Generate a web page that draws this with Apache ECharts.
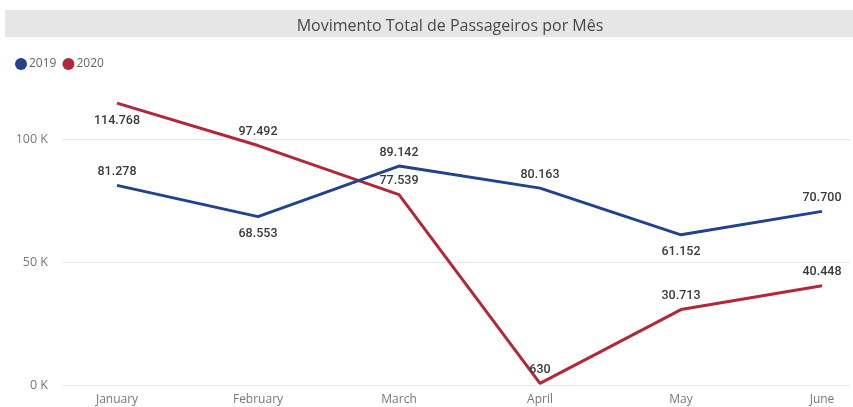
<!DOCTYPE html>
<html>
<head>
<meta charset="utf-8">
<script src="https://cdn.jsdelivr.net/npm/echarts@6/dist/echarts.min.js"></script>
<style>html,body{margin:0;padding:0;background:#fff}#c{width:853px;height:407px}</style>
</head>
<body>
<div id="c"></div>
<script>
const titleText = 'Movimento Total de Passageiros por Mês';
const months = ['January', 'February', 'March', 'April', 'May', 'June'];
const seriesNames = ['2019', '2020'];
const values2019 = [81278, 68553, 89142, 80163, 61152, 70700];
const values2020 = [114768, 97492, 77539, 630, 30713, 40448];
const yTicks = [0, 50000, 100000];

const colors = ['#22428c', '#b0283a'];
const pos2019 = ['top', 'bottom', 'top', 'top', 'bottom', 'top'];
const pos2020 = ['bottom', 'top', 'top', 'top', 'top', 'top'];

function fmt(v) {
  return String(v).replace(/\B(?=(\d{3})+(?!\d))/g, '.');
}
function items(vals, pos) {
  return vals.map((v, i) => ({ value: v, label: { position: pos[i], distance: pos[i] === 'bottom' ? 11 : 7 } }));
}
const labelStyle = { show: true, color: '#3a3a3a', fontFamily: 'Roboto', fontSize: 12.5, fontWeight: 500, distance: 7, formatter: p => fmt(p.value) };

const chart = echarts.init(document.getElementById('c'), null, { renderer: 'canvas' });
chart.setOption({
  animation: false,
  graphic: [{ type: 'rect', shape: { x: 5, y: 10, width: 848, height: 27 }, style: { fill: '#e6e6e6' }, z: 0 }],
  title: { text: titleText, left: 445, textAlign: 'center', top: 13, textStyle: { fontFamily: 'Open Sans', fontWeight: 'normal', fontSize: 16, color: '#484848' } },
  legend: { left: 10, top: 53, itemWidth: 12, itemHeight: 12, itemGap: 6, icon: 'circle', textStyle: { color: '#666', fontFamily: 'Open Sans', fontSize: 12, padding: [0, 0, 0, -3] }, data: seriesNames },
  grid: [
    { left: 62, right: 3, top: 78, bottom: 22 },
    { left: 117, right: 31, top: 78, bottom: 22 }
  ],
  xAxis: [
    { gridIndex: 0, type: 'value', min: 0, max: 1, show: false },
    { gridIndex: 1, type: 'category', data: months, boundaryGap: false, axisLine: { show: false }, axisTick: { show: false }, axisLabel: { color: '#777', fontFamily: 'Open Sans', fontSize: 12, margin: 9 } }
  ],
  yAxis: [
    { gridIndex: 0, type: 'value', min: yTicks[0], max: 125000, interval: yTicks[1] - yTicks[0],
      axisLine: { show: false }, axisTick: { show: false },
      axisLabel: { showMaxLabel: false, color: '#777', fontFamily: 'Open Sans', fontSize: 12.5, margin: 14, formatter: v => (v / 1000) + ' K' },
      splitLine: { showMaxLine: false, lineStyle: { color: '#e8e8e8', width: 1 } } },
    { gridIndex: 1, type: 'value', min: 0, max: 125000, show: false, splitLine: { show: false } }
  ],
  series: [
    { name: seriesNames[0], type: 'line', xAxisIndex: 1, yAxisIndex: 1, data: items(values2019, pos2019), showSymbol: true, symbol: 'circle', symbolSize: 0.1, color: colors[0], lineStyle: { width: 3, color: colors[0] }, label: labelStyle, z: 3 },
    { name: seriesNames[1], type: 'line', xAxisIndex: 1, yAxisIndex: 1, data: items(values2020, pos2020), showSymbol: true, symbol: 'circle', symbolSize: 0.1, color: colors[1], lineStyle: { width: 3, color: colors[1] }, label: labelStyle, z: 2 }
  ]
});
</script>
</body>
</html>
